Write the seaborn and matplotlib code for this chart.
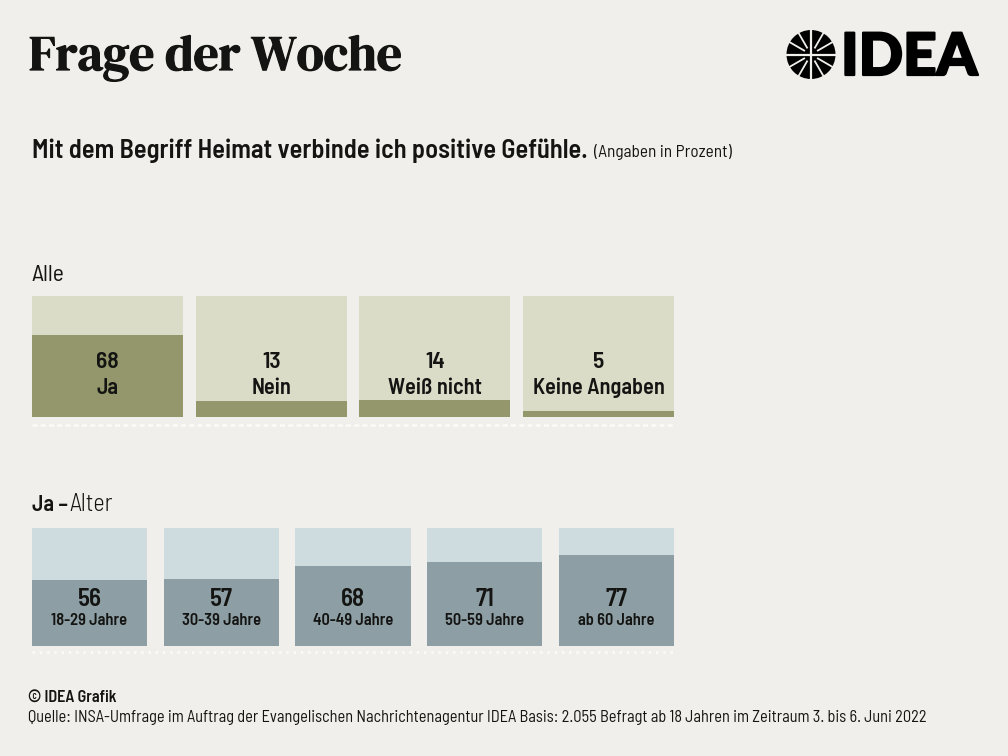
import matplotlib
matplotlib.use('Agg')
import matplotlib.patheffects as pe
import matplotlib.pyplot as plt
import numpy as np
import seaborn as sns
from matplotlib import font_manager
from matplotlib.lines import Line2D
from matplotlib.patches import Circle

all_labels = ['Ja', 'Nein', 'Weiß nicht', 'Keine Angaben']
all_values = [68, 13, 14, 5]
age_labels = ['18-29 Jahre', '30-39 Jahre', '40-49 Jahre', '50-59 Jahre', 'ab 60 Jahre']
age_values = [56, 57, 68, 71, 77]
full_scale = 100

BG = '#f0efeb'
INK = '#141412'
W, H = 1008, 756

sns.set_theme(style='white')
names = {f.name for f in font_manager.fontManager.ttflist}


def pick(*families):
  for family in families:
    if family in names:
      return family
  return 'DejaVu Sans'


NARROW = pick('Barlow Semi Condensed', 'Roboto Condensed', 'Liberation Sans Narrow', 'Roboto')
SERIF = pick('DM Serif Display', 'Liberation Serif')
plt.rcParams['font.family'] = [NARROW, 'DejaVu Sans']

fig = plt.figure(figsize=(W / 100, H / 100), dpi=100, facecolor=BG)


def px_text(x, y, s, **kw):
  kw.setdefault('color', INK)
  kw.setdefault('va', 'baseline')
  return fig.text(x / W, 1 - y / H, s, **kw)


def bar_panel(left, right, top, bottom, labels, values, width, light, dark):
  # axes spans whole category slots, so the outer bars land on left / right
  n = len(values)
  pitch = (right - left) / (n - 1 + width)
  x0 = left - pitch * (1 - width) / 2
  ax = fig.add_axes([x0 / W, 1 - bottom / H, pitch * n / W, (bottom - top) / H])
  sns.barplot(x=labels, y=[full_scale] * n, color=light, saturation=1, width=width, linewidth=0, ax=ax)
  sns.barplot(x=labels, y=values, color=dark, saturation=1, width=width, linewidth=0, ax=ax)
  ax.set_xlim(-0.5, n - 0.5)
  ax.set_ylim(0, full_scale)
  ax.axis('off')
  return ax


# --------------------
# Header
# --------------------
px_text(29, 70, 'Frage der Woche', family=SERIF, fontsize=35.6,
        path_effects=[pe.withStroke(linewidth=0.9, foreground=INK)])
px_text(32, 158, 'Mit dem Begriff Heimat verbinde ich positive Gefühle.', weight=600, fontsize=19)
px_text(594, 157, '(Angaben in Prozent)', fontsize=12.4)

# logo
logo = fig.add_axes([0, 0, 1, 1], facecolor='none')
logo.set_xlim(0, W)
logo.set_ylim(H, 0)
logo.axis('off')
cx, cy, r = 811, 54.5, 24.5
logo.add_patch(Circle((cx, cy), r, color='#000000', lw=0))
logo.plot([cx, cx], [cy - r - 1, cy + r + 1], color=BG, lw=1.6, solid_capstyle='butt')
logo.plot([cx - r - 1, cx + r + 1], [cy, cy], color=BG, lw=1.6, solid_capstyle='butt')
for a in np.deg2rad([30, 60, 120, 150, 210, 240, 300, 330]):
  logo.plot([cx + 7 * np.cos(a), cx + (r + 1) * np.cos(a)],
            [cy + 7 * np.sin(a), cy + (r + 1) * np.sin(a)],
            color=BG, lw=1.3, solid_capstyle='butt')
px_text(841, 75, 'IDEA', family='Lato', weight=900, fontsize=42, color='#000000',
        path_effects=[pe.withStroke(linewidth=1.6, foreground='#000000')])

# --------------------
# Alle
# --------------------
px_text(31, 281, 'Alle', fontsize=17)
ax = bar_panel(32, 674, 296, 417, all_labels, all_values, 0.923, '#dadcc8', '#93976b')
for i, (label, value) in enumerate(zip(all_labels, all_values)):
  ax.text(i, 40.5, str(value), ha='center', va='baseline', weight=600, fontsize=17, color=INK)
  ax.text(i, 19, label, ha='center', va='baseline', weight=600, fontsize=16, color=INK)
fig.add_artist(Line2D([32 / W, 674 / W], [1 - 425 / H] * 2, color='#fbfbf9', lw=1.8,
                      linestyle=(0, (2, 1.3))))

# --------------------
# Ja - Alter
# --------------------
px_text(32, 511, 'Ja –', weight=600, fontsize=16)
px_text(69, 511, 'Alter', weight=300, fontsize=17.5)
ax = bar_panel(32, 674, 528, 646, age_labels, age_values, 0.873, '#cfdcdf', '#8d9fa5')
for i, (label, value) in enumerate(zip(age_labels, age_values)):
  ax.text(i, 34.2, str(value), ha='center', va='baseline', weight=600, fontsize=18, color=INK)
  ax.text(i, 17.8, label, ha='center', va='baseline', weight=600, fontsize=11.8, color=INK)
fig.add_artist(Line2D([32 / W, 674 / W], [1 - 652 / H] * 2, color='#fbfbf9', lw=1.8,
                      linestyle=(0, (1, 1.9))))

# --------------------
# Footer
# --------------------
px_text(28, 702, '© IDEA Grafik', weight=600, fontsize=11.7)
px_text(28, 722, 'Quelle: INSA-Umfrage im Auftrag der Evangelischen Nachrichtenagentur IDEA Basis: '
        '2.055 Befragt ab 18 Jahren im Zeitraum 3. bis 6. Juni 2022', fontsize=11.77)

fig.savefig('out.png', dpi=100, facecolor=BG)
